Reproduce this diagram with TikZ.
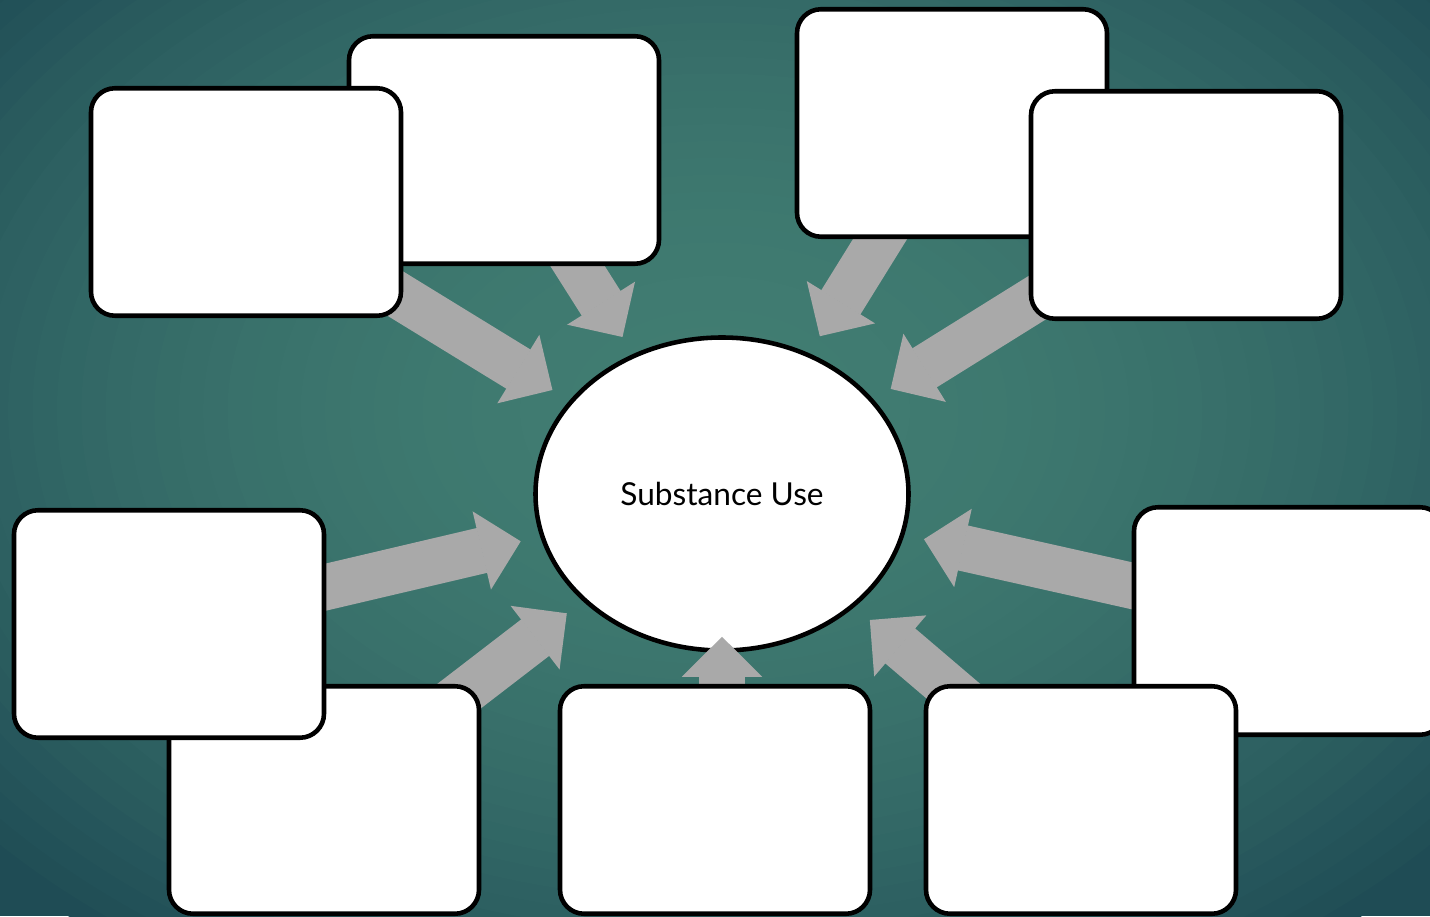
\documentclass[tikz,border=0pt]{standalone}
\usepackage{fontspec}
\setmainfont{Lato}
\usetikzlibrary{shapes.geometric,arrows.meta}
\pgfdeclarelayer{bg}
\pgfdeclarelayer{hublayer}
\pgfdeclarelayer{arrowlayer}
\pgfsetlayers{bg,hublayer,arrowlayer,main}
\definecolor{teallight}{HTML}{417D72}
\definecolor{tealdark}{HTML}{1F4C55}
\definecolor{arrowgray}{HTML}{A9A9A9}
\begin{document}
\begin{tikzpicture}
\tikzstyle{idea}=[draw=black,line width=2.6pt,fill=white,rounded corners=0.48cm,minimum width=6.2cm,minimum height=4.55cm,inner sep=0pt]
\tikzstyle{hubnode}=[ellipse,draw=black,line width=2.6pt,fill=white,minimum width=7.46cm,minimum height=6.26cm,inner sep=0pt,font=\fontsize{18}{20}\selectfont]
\tikzstyle{feed}=[draw=arrowgray,line width=0.92cm,-{Triangle[length=0.8cm,width=1.6cm,line width=1pt]},shorten >=0.4cm]
\useasboundingbox (0,0) rectangle (28.6,18.32);
\begin{pgfonlayer}{bg}
\clip (0,0) rectangle (28.6,18.32);
\fill[tealdark] (0,0) rectangle (28.6,18.32);
% radial glow, outside in
\foreach \i in {40,39,...,1} {
  \pgfmathsetmacro\glowpct{100*(\i/40)^2}
  \fill[tealdark!\glowpct!teallight] (14.3,10.1) ellipse ({19.5*\i/40} and {13.5*\i/40});
}
\end{pgfonlayer}
\begin{pgfonlayer}{hublayer}
\node[hubnode] (hub) at (14.44,8.44) {Substance Use};
\end{pgfonlayer}
% boxes, back ones first
\node[idea] (tlb) at (10.08,15.32) {};
\node[idea] (tlf) at (4.92,14.28) {};
\node[idea] (trb) at (19.04,15.86) {};
\node[idea] (trf) at (23.72,14.22) {};
\node[idea] (bl) at (6.48,2.32) {};
\node[idea] (lm) at (3.38,5.84) {};
\node[idea] (rm) at (25.78,5.90) {};
\node[idea] (br) at (21.62,2.32) {};
\node[idea] (bc) at (14.30,2.32) {};
\begin{pgfonlayer}{arrowlayer}
\draw[feed] (tlf.center) -- (hub);
\draw[feed] (tlb.center) -- (hub);
\draw[feed] (trb.center) -- (hub);
\draw[feed] (trf.center) -- (hub);
\draw[feed] (lm.center) -- (hub);
\draw[feed] (bl.center) -- (hub);
\draw[feed] (rm.center) -- (hub);
\draw[feed] (br.center) -- (hub);
\draw[feed,shorten >=-0.32cm] (hub |- bc.center) -- (hub);
\end{pgfonlayer}
\end{tikzpicture}
\end{document}
